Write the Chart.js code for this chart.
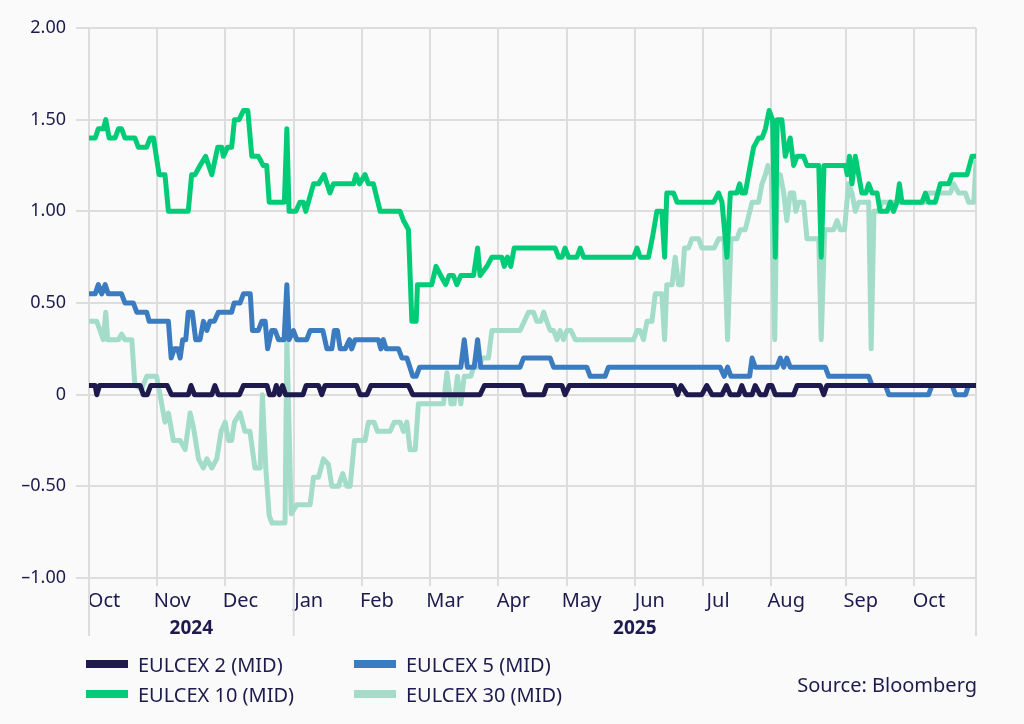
<!DOCTYPE html>
<html>
<head>
<meta charset="utf-8">
<script src="https://cdn.jsdelivr.net/npm/chart.js@4.4.1/dist/chart.umd.min.js"></script>
<style>
  body { margin: 0; background: #fafafa; font-family: 'Noto Sans', sans-serif; color: #1e1a4d; }
  #wrap { position: relative; width: 1024px; height: 724px; }
  #legend { position: absolute; left: 86px; top: 649px; display: grid;
            grid-template-columns: 268px 300px; grid-auto-rows: 30px; font-size: 20px; }
  .item { display: flex; align-items: center; white-space: nowrap; }
  .swatch { width: 42px; height: 8px; margin-right: 10px; }
  #source { position: absolute; right: 47px; top: 673px; font-size: 20px; line-height: 24px; }
</style>
</head>
<body>
<div id="wrap">
  <canvas id="chart" width="1024" height="724"></canvas>
  <div id="legend"></div>
  <div id="source">Source: Bloomberg</div>
</div>
<script>
// x positions are in trading-day units from the start of Oct 2024
const monthStarts = [0, 22, 44, 66, 88, 110, 132, 154, 176, 198, 220, 244, 266, 286];
const monthLabels = ['Oct', 'Nov', 'Dec', 'Jan', 'Feb', 'Mar', 'Apr', 'May', 'Jun', 'Jul', 'Aug', 'Sep', 'Oct', ''];
const yearBreaks = [0, 66, 286];
const yearLabels = ['2024', '2025'];

const eulcex2Days = [0, 2, 2.5, 3.4, 16.5, 17.5, 18.8, 19.9, 25.2, 26.6, 32, 32.9, 34, 39.6, 40.6, 41.7, 48.5, 49.8,
  57.4, 58.2, 59.6, 60.4, 61.4, 62.4, 63.4, 69, 70, 74, 75.05, 76.1, 86.3, 87.4, 89.6, 90.9, 103, 104.4, 126.1, 127.5,
  139.6, 140.6, 146.6, 147.6, 152.5, 153.5, 154.9, 188.7, 189.8, 190.9, 192.8, 197.6, 199.2, 200.9, 204.1, 205.5,
  206.8, 209.5, 210.5, 211.6, 213.8, 214.8, 216.4, 218.1, 219.1, 220.2, 221.3, 227.2, 228.3, 235.8, 236.9, 237.9, 286];
const eulcex2Mid = [0.05, 0.05, 0, 0.05, 0.05, 0, 0, 0.05, 0.05, 0, 0, 0.05, 0, 0, 0.05, 0, 0, 0.05,
  0.05, 0, 0, 0.05, 0, 0.05, 0, 0, 0.05, 0.05, 0, 0.05, 0.05, 0, 0, 0.05, 0.05, 0, 0, 0.05,
  0.05, 0, 0, 0.05, 0.05, 0, 0.05, 0.05, 0, 0.05, 0, 0, 0.05, 0, 0, 0.05,
  0, 0, 0.05, 0, 0, 0.05, 0, 0, 0.05, 0.05, 0, 0, 0.05, 0.05, 0, 0.05, 0.05];

const eulcex5Days = [0, 2, 3, 4.1, 5.2, 6.2, 10.5, 11.6, 14.3, 15.4, 18.6, 19.4, 25.6, 26.5, 27.5, 28.6, 29.4, 30.2,
  31.2, 32, 33.3, 34.4, 35.8, 36.9, 38, 39, 40.4, 41.7, 46, 46.8, 48.7, 49.8, 52, 52.7, 54.6, 55.7, 56.8, 57.6,
  58.9, 60, 61.1, 62.9, 63.8, 64.5, 65.9, 67, 70.2, 71.3, 75.4, 76.7, 78.3, 79.1, 80.1, 81, 82.6, 84, 84.7, 85.8,
  93.3, 94.1, 94.9, 95.8, 99.8, 100.9, 102.5, 104.4, 105.5, 106.6, 119.9, 121, 122, 124.2, 125.3, 126.3, 139,
  140.1, 148.7, 149.8, 160.5, 161.6, 166.4, 167.5, 203.5, 204.8, 205.9, 207, 213, 213.8, 214.8, 221.8, 222.9,
  224, 225, 226.1, 237.4, 238.5, 251.4, 252.5, 256.8, 257.9, 270.7, 271.8, 278.3, 279.4, 282.6, 283.6, 286];
const eulcex5Mid = [0.55, 0.55, 0.60, 0.55, 0.60, 0.55, 0.55, 0.50, 0.50, 0.45, 0.45, 0.40, 0.40, 0.20, 0.25, 0.25, 0.20, 0.30,
  0.30, 0.45, 0.45, 0.30, 0.30, 0.40, 0.35, 0.40, 0.40, 0.45, 0.45, 0.50, 0.50, 0.55, 0.55, 0.35, 0.35, 0.40, 0.40, 0.25,
  0.35, 0.35, 0.30, 0.30, 0.60, 0.30, 0.35, 0.30, 0.30, 0.35, 0.35, 0.25, 0.25, 0.35, 0.35, 0.25, 0.25, 0.30, 0.25, 0.30,
  0.30, 0.25, 0.30, 0.25, 0.25, 0.20, 0.20, 0.10, 0.10, 0.15, 0.15, 0.30, 0.15, 0.15, 0.30, 0.15, 0.15,
  0.20, 0.20, 0.15, 0.15, 0.10, 0.10, 0.15, 0.15, 0.10, 0.15, 0.10, 0.10, 0.20, 0.15, 0.15, 0.20,
  0.15, 0.20, 0.15, 0.15, 0.10, 0.10, 0.05, 0.05, 0, 0, 0.05, 0.05, 0, 0, 0.05, 0.05];

const eulcex10Days = [0, 2, 3, 4.6, 5.4, 6.5, 8.4, 9.5, 10.5, 11.6, 14.8, 15.9, 18.6, 19.7, 20.8, 22.6, 24.5, 25.6,
  32, 33.1, 34.2, 35.8, 37.6, 39.6, 41.5, 42.8, 43.3, 44.7, 46, 46.9, 48.4, 49.8, 51.2, 52.5, 54.6, 56.2, 57.3, 58.1,
  63, 63.8, 64.5, 66.7, 68, 69.1, 69.9, 72.4, 74, 75.8, 77.7, 78.8, 85.3, 86.1, 87.2, 89, 90.1, 91.7, 93.9, 100.3,
  101.4, 103, 104.1, 105.5, 105.9, 110.5, 111.9, 113.4, 115, 116.1, 117.5, 118.6, 119.9, 124, 125.3, 126.1, 128.3,
  129.9, 133.1, 133.9, 134.9, 136, 137.1, 150.3, 151.4, 152.5, 153.5, 154.6, 157.3, 158.4, 159.5, 175.6, 176.7,
  177.7, 180.4, 181.8, 183.1, 184.7, 185.6, 186.3, 188.5, 189.6, 201.4, 203, 204.1, 205.7, 206.8, 208.9, 209.8,
  210.5, 211.6, 213.2, 214.3, 215.9, 217, 218.1, 219.3, 220.4, 221.3, 221.9, 223.4, 224.5, 226.1, 227.2, 228.3,
  230.4, 231.5, 235.3, 236.1, 237, 243.9, 244.5, 245.2, 246, 247.1, 249.2, 250.5, 251.4, 252.5, 254.1, 255.1,
  257.3, 258.4, 259.4, 260.5, 261.3, 262.1, 268.6, 269.7, 270.7, 272.9, 274.5, 277.2, 278.3, 283.1, 284.7, 286];
const eulcex10Mid = [1.40, 1.40, 1.45, 1.45, 1.50, 1.40, 1.40, 1.45, 1.45, 1.40, 1.40, 1.35, 1.35, 1.40, 1.40, 1.20, 1.20, 1.00,
  1.00, 1.20, 1.20, 1.25, 1.30, 1.20, 1.35, 1.35, 1.30, 1.35, 1.35, 1.50, 1.50, 1.55, 1.55, 1.30, 1.30, 1.25, 1.25, 1.05,
  1.05, 1.45, 1.00, 1.00, 1.05, 1.05, 1.00, 1.15, 1.15, 1.20, 1.10, 1.15, 1.15, 1.20, 1.15, 1.20, 1.15, 1.15, 1.00, 1.00,
  0.95, 0.90, 0.40, 0.40, 0.60, 0.60, 0.70, 0.65, 0.60, 0.65, 0.65, 0.60, 0.65, 0.65, 0.80, 0.65, 0.70,
  0.75, 0.75, 0.70, 0.75, 0.70, 0.80, 0.80, 0.75, 0.75, 0.80, 0.75, 0.75, 0.80, 0.75, 0.75, 0.80,
  0.75, 0.75, 0.87, 1.00, 1.00, 0.75, 1.10, 1.10, 1.05, 1.05, 1.10, 1.05, 0.75, 1.10, 1.10, 1.15,
  1.10, 1.10, 1.25, 1.35, 1.40, 1.40, 1.45, 1.55, 1.50, 0.75, 1.50, 1.50, 1.30, 1.40, 1.25, 1.30,
  1.30, 1.25, 1.25, 0.75, 1.25, 1.25, 1.20, 1.30, 1.15, 1.30, 1.10, 1.10, 1.15, 1.10, 1.10, 1.00,
  1.00, 1.05, 1.00, 1.05, 1.15, 1.05, 1.05, 1.10, 1.05, 1.05, 1.15, 1.15, 1.20, 1.20, 1.30, 1.30];

const eulcex30Days = [0, 2.5, 4.6, 5.4, 6, 9.5, 10.5, 11.6, 13.8, 14.8, 17, 18.6, 21.8, 22.9, 24.5, 25.6, 27.2, 29.4,
  31, 32.6, 33.7, 35.3, 36.9, 38, 39.6, 41.2, 42.6, 43.9, 45, 46, 46.9, 48.7, 50.3, 51.9, 53.5, 55.2, 55.9, 57,
  58.1, 59, 63.2, 63.8, 65.2, 67, 71.3, 72.4, 74, 75.6, 77.2, 78.3, 80.4, 81.8, 83.1, 84.2, 85.6, 89, 90.1, 91.9,
  93, 97.1, 98.4, 100.3, 101.4, 102.5, 103.5, 105.2, 106.2, 114.3, 115.4, 116.7, 117.7, 118.8, 119.9, 121, 123.1,
  124, 125.9, 126.7, 128.8, 129.9, 139, 141.7, 143.3, 144.4, 145.7, 146.6, 147.6, 148.7, 149.8, 150.9, 151.9, 153,
  154.1, 155.4, 156.8, 175.6, 176.7, 177.7, 178.8, 179.9, 181.5, 182.6, 184.7, 185.6, 186.3, 188, 189, 190.1,
  191.2, 192, 193.3, 194.4, 196.6, 197.6, 201.6, 203, 204.8, 205.9, 207, 208.9, 210, 211.6, 213.8, 215.9, 217,
  218.1, 218.9, 220, 221.1, 221.9, 222.9, 224, 225, 226.1, 227.2, 227.9, 228.8, 230.4, 231.5, 235.3, 236.1, 237.2,
  240.1, 241.2, 242.2, 243.6, 244.9, 246, 247.1, 248.2, 251.4, 252.2, 253.1, 254.4, 255.7, 269.7, 270.7, 277.7,
  278.8, 280.4, 282.6, 283.6, 285.3, 286];
const eulcex30Mid = [0.40, 0.40, 0.30, 0.45, 0.30, 0.30, 0.33, 0.30, 0.30, 0.05, 0.03, 0.10, 0.10, 0.00, -0.15, -0.10, -0.25, -0.25,
  -0.30, -0.10, -0.18, -0.35, -0.40, -0.35, -0.40, -0.35, -0.20, -0.15, -0.25, -0.25, -0.15, -0.10, -0.20, -0.20, -0.40, -0.40, 0.00, -0.40,
  -0.66, -0.70, -0.70, 0.30, -0.65, -0.60, -0.60, -0.45, -0.45, -0.35, -0.38, -0.50, -0.50, -0.43, -0.50, -0.50, -0.25, -0.25, -0.15, -0.15,
  -0.20, -0.20, -0.15, -0.15, -0.20, -0.15, -0.30, -0.30, -0.05, -0.05, 0.12, -0.05, -0.05, 0.10, -0.05, 0.10, 0.10,
  0.15, 0.15, 0.20, 0.20, 0.35, 0.35, 0.45, 0.45, 0.40, 0.40, 0.45, 0.40, 0.35, 0.35, 0.30, 0.35, 0.30,
  0.35, 0.35, 0.30, 0.30, 0.35, 0.35, 0.30, 0.40, 0.40, 0.55, 0.55, 0.30, 0.60, 0.60, 0.75, 0.60,
  0.60, 0.80, 0.80, 0.85, 0.85, 0.80, 0.80, 0.85, 0.85, 0.30, 0.85, 0.85, 0.90, 0.90, 1.05, 1.05, 1.15,
  1.20, 1.25, 1.20, 0.30, 1.20, 1.20, 1.10, 0.95, 1.10, 1.10, 1.00, 1.05, 1.05, 0.85, 0.85, 0.30, 0.90,
  0.90, 0.95, 0.90, 0.90, 1.15, 1.10, 1.00, 1.05, 1.05, 0.25, 1.00, 1.00, 1.05, 1.05, 1.10, 1.10,
  1.15, 1.10, 1.10, 1.05, 1.05, 1.27];

const textColour = '#1e1a4d';
const gridColour = '#dddddd';

function toPoints(days, values) {
  return days.map((d, i) => ({ x: d, y: values[i] }));
}

function makeDataset(label, colour, days, values) {
  return {
    label: label,
    data: toPoints(days, values),
    borderColor: colour,
    backgroundColor: colour,
    borderWidth: 5,
    pointRadius: 0,
    borderJoinStyle: 'round',
    borderCapStyle: 'round',
    tension: 0
  };
}

// longer separators and year names under the month labels
const yearMarks = {
  id: 'yearMarks',
  afterDraw(chart) {
    const x = chart.scales.x;
    const ctx = chart.ctx;
    const bottom = chart.chartArea.bottom;
    ctx.save();
    ctx.strokeStyle = gridColour;
    ctx.lineWidth = 2;
    yearBreaks.forEach(d => {
      const px = x.getPixelForValue(d);
      ctx.beginPath();
      ctx.moveTo(px, bottom);
      ctx.lineTo(px, bottom + 58);
      ctx.stroke();
    });
    ctx.font = 'bold 19px "Noto Sans"';
    ctx.fillStyle = textColour;
    ctx.textAlign = 'center';
    ctx.textBaseline = 'middle';
    yearLabels.forEach((y, i) => {
      const mid = (x.getPixelForValue(yearBreaks[i]) + x.getPixelForValue(yearBreaks[i + 1])) / 2;
      ctx.fillText(y, mid, bottom + 51);
    });
    ctx.restore();
  }
};

Chart.defaults.font.family = "'Noto Sans', sans-serif";
Chart.defaults.font.size = 18;
Chart.defaults.color = textColour;

const ctx = document.getElementById('chart');
const chart = new Chart(ctx, {
  type: 'line',
  data: {
    datasets: [
      makeDataset('EULCEX 2 (MID)', '#1e1a4d', eulcex2Days, eulcex2Mid),
      makeDataset('EULCEX 5 (MID)', '#3b7cc0', eulcex5Days, eulcex5Mid),
      makeDataset('EULCEX 10 (MID)', '#00cc78', eulcex10Days, eulcex10Mid),
      makeDataset('EULCEX 30 (MID)', '#a3dcc8', eulcex30Days, eulcex30Mid)
    ]
  },
  options: {
    responsive: false,
    animation: false,
    layout: { padding: { left: 0, right: 48, top: 28, bottom: 86 } },
    plugins: { legend: { display: false }, tooltip: { enabled: false } },
    scales: {
      x: {
        type: 'linear',
        min: 0,
        max: 286,
        afterBuildTicks: (scale) => { scale.ticks = monthStarts.map(v => ({ value: v })); },
        afterFit: (scale) => { scale.height = 60; },
        ticks: {
          autoSkip: false,
          maxRotation: 0,
          labelOffset: 15,
          padding: 3,
          font: { size: 20 },
          callback: (value) => monthLabels[monthStarts.indexOf(value)] || ''
        },
        grid: { color: gridColour, lineWidth: 2, tickLength: 8 },
        border: { color: gridColour, width: 2 }
      },
      y: {
        min: -1,
        max: 2,
        afterFit: (scale) => { scale.width = 89; },
        ticks: {
          stepSize: 0.5,
          padding: 10,
          callback: (value) => value === 0 ? '0' : value.toFixed(2).replace('-', '\u2013')
        },
        grid: { color: gridColour, lineWidth: 2, tickLength: 13 },
        border: { color: gridColour, width: 2 }
      }
    }
  },
  plugins: [yearMarks]
});

// legend laid out as a two-column grid, built from the datasets
const legend = document.getElementById('legend');
chart.data.datasets.forEach(ds => {
  const item = document.createElement('div');
  item.className = 'item';
  const swatch = document.createElement('span');
  swatch.className = 'swatch';
  swatch.style.background = ds.borderColor;
  item.appendChild(swatch);
  item.appendChild(document.createTextNode(ds.label));
  legend.appendChild(item);
});
</script>
</body>
</html>
